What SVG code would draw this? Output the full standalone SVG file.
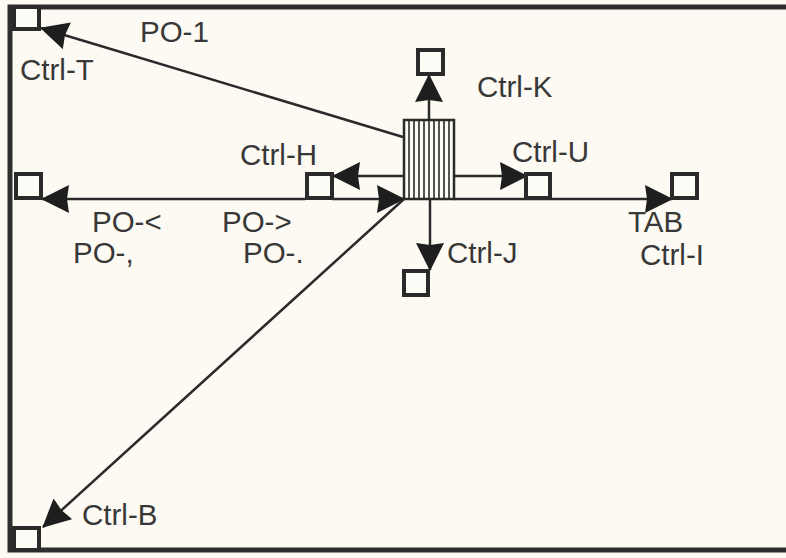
<svg xmlns="http://www.w3.org/2000/svg" width="786" height="558" viewBox="0 0 786 558">
<defs>
<style>
.bg{fill:#fcfaf2}
.frame{fill:none;stroke:#2e2e2e;stroke-width:5;stroke-linecap:square}
.sq{fill:#fdfbf5;stroke:#2a2a2a;stroke-width:4}
.ln{fill:none;stroke:#2a2a2a;stroke-width:2.5}
.arr{marker-end:url(#ah)}
.lbl{font-family:"Liberation Sans",Arial,Helvetica,sans-serif;font-size:29.5px;fill:#383838}
.hatch{stroke:#2a2a2a;stroke-width:1.6}
</style>
<marker id="ah" markerUnits="userSpaceOnUse" viewBox="0 0 28 28" markerWidth="28" markerHeight="28" refX="27" refY="14" orient="auto">
<path d="M0,0 L28,14 L0,28 L2,14 z" fill="#1e1e1e"/>
</marker>
</defs>
<rect class="bg" x="0" y="0" width="786" height="558"/>
<g id="frame">
<path class="frame" d="M790,7 L10,7 L10,550 L790,550"/>
</g>
<g id="connectors">
<line class="ln arr" x1="403" y1="137" x2="41" y2="28"/>
<line class="ln arr" x1="429" y1="120" x2="429" y2="75"/>
<line class="ln arr" x1="404" y1="176" x2="333" y2="176"/>
<line class="ln arr" x1="454" y1="176" x2="527" y2="176"/>
<line class="ln arr" x1="305" y1="199" x2="42" y2="199"/>
<line class="ln arr" x1="332" y1="199" x2="404" y2="199"/>
<line class="ln arr" x1="454" y1="199" x2="672" y2="199"/>
<line class="ln arr" x1="430" y1="199" x2="430" y2="270"/>
<line class="ln arr" x1="404" y1="199" x2="43" y2="527"/>
</g>
<g id="cursor">
<rect x="404" y="120" width="50" height="79" fill="#fdfbf5" stroke="#2a2a2a" stroke-width="2.5"/>
<path class="hatch" d="M409,120V199M414,120V199M419,120V199M424,120V199M429,120V199M434,120V199M439,120V199M444,120V199M449,120V199"/>
</g>
<g id="ctrl-t"><rect class="sq" x="14" y="7" width="25" height="22"/><text class="lbl" x="20" y="80">Ctrl-T</text></g>
<g id="po-1"><text class="lbl" x="140" y="42">PO-1</text></g>
<g id="ctrl-k"><rect class="sq" x="418" y="50" width="25" height="24"/><text class="lbl" x="477" y="97">Ctrl-K</text></g>
<g id="ctrl-h"><rect class="sq" x="307" y="174" width="25" height="24"/><text class="lbl" x="240" y="165">Ctrl-H</text></g>
<g id="ctrl-u"><rect class="sq" x="526" y="174" width="24" height="24"/><text class="lbl" x="512" y="162">Ctrl-U</text></g>
<g id="po-left"><rect class="sq" x="16" y="174" width="25" height="24"/><text class="lbl" x="92" y="232">PO-&lt;</text><text class="lbl" x="73" y="263">PO-,</text></g>
<g id="po-right"><text class="lbl" x="222" y="232">PO-&gt;</text><text class="lbl" x="243" y="263">PO-.</text></g>
<g id="tab"><rect class="sq" x="672" y="174" width="25" height="24"/><text class="lbl" x="628" y="232">TAB</text><text class="lbl" x="640" y="265">Ctrl-I</text></g>
<g id="ctrl-j"><rect class="sq" x="404" y="271" width="24" height="24"/><text class="lbl" x="447" y="263">Ctrl-J</text></g>
<g id="ctrl-b"><rect class="sq" x="14" y="528" width="25" height="22"/><text class="lbl" x="82" y="525">Ctrl-B</text></g>
</svg>
